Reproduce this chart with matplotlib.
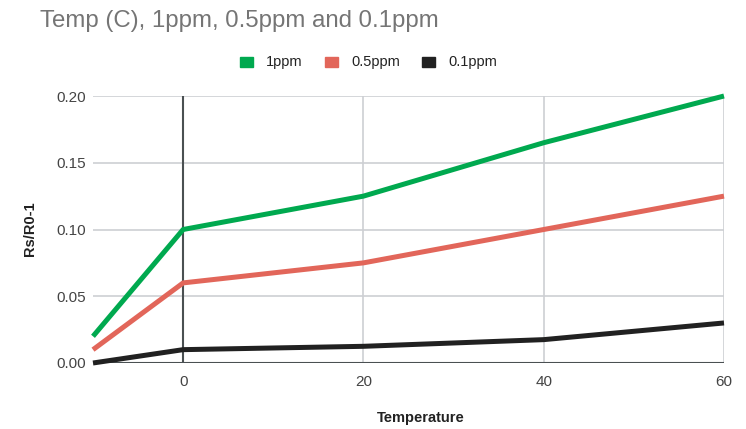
import matplotlib
matplotlib.use("Agg")
import matplotlib.pyplot as plt
from matplotlib.patches import Rectangle

temps = [-10, 0, 20, 40, 60]
ppm1 = [0.02, 0.10, 0.125, 0.165, 0.20]
ppm05 = [0.01, 0.06, 0.075, 0.10, 0.125]
ppm01 = [0.0, 0.01, 0.0125, 0.0175, 0.03]
series_names = ["1ppm", "0.5ppm", "0.1ppm"]
colors = ["#00a94f", "#e2665a", "#212121"]
yticks = [0.0, 0.05, 0.10, 0.15, 0.20]
xticks = [0, 20, 40, 60]

plt.rcParams['font.family'] = ['Arial', 'Liberation Sans', 'DejaVu Sans']
fig = plt.figure(figsize=(7.46, 4.29), dpi=100)
ax = fig.add_axes([93/746, 66/429, (724-93)/746, (363-96)/429])

for x in xticks[1:]:
    ax.axvline(x, color="#cdcfd3", lw=1.2, zorder=1)
for y in yticks[1:]:
    ax.axhline(y, color="#cdcfd3", lw=1.2, zorder=1)
ax.axvline(0, color="#4a5052", lw=1.5, zorder=2)
ax.axhline(0, color="#4a5052", lw=1.5, zorder=2)

for vals, c, name in zip([ppm1, ppm05, ppm01], colors, series_names):
    ax.plot(temps, vals, color=c, lw=3.6, solid_joinstyle='round',
            solid_capstyle='butt', zorder=3, label=name, clip_on=False)

ax.set_xlim(-10, 60)
ax.set_ylim(0, 0.20)
ax.set_xticks(xticks)
ax.set_yticks(yticks)
ax.set_yticklabels([f"{v:.2f}" for v in yticks])
for s in ax.spines.values():
    s.set_visible(False)
ax.tick_params(length=0, labelsize=11, labelcolor="#444444")
ax.tick_params(axis='x', pad=9)
ax.tick_params(axis='y', pad=5)

fig.text(421/746, 1 - 418/429, "Temperature", fontsize=10.5, fontweight='bold',
         color="#222222", ha='center', va='center')
fig.text(30/746, 1 - 229/429, "Rs/R0-1", fontsize=10.5, fontweight='bold',
         color="#222222", ha='center', va='center', rotation=90)

fig.text(40/746, 1 - 21/429, "Temp (C), 1ppm, 0.5ppm and 0.1ppm", fontsize=17.3,
         color="#757575", va='center', ha='left')

# legend
leg_x = [240, 325, 422]
for lx, c, name in zip(leg_x, colors, series_names):
    fig.patches.append(Rectangle((lx/746, 1 - 67/429), 13/746, 10/429,
                                 transform=fig.transFigure, color=c))
    fig.text((lx + 26)/746, 1 - 62/429, name, fontsize=10.5, color="#222222",
             va='center', ha='left')

fig.savefig("out.png", dpi=100)
